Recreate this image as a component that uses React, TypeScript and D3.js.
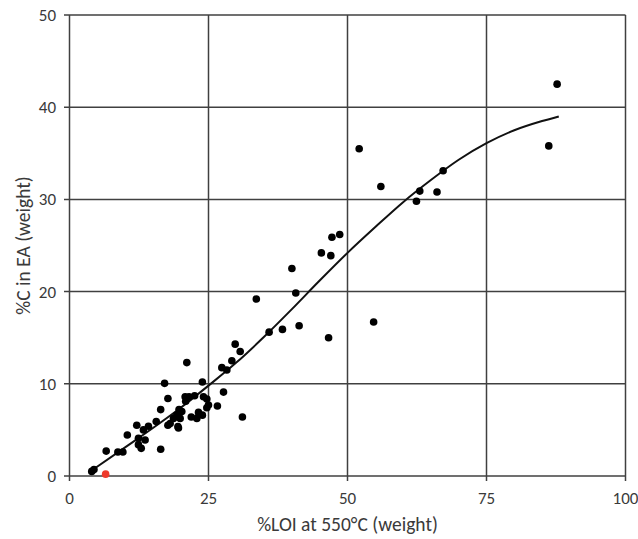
import React from "react";
import * as d3 from "d3";

const loiX: number[] = [
  87.7, 86.2, 52.1, 56.0, 67.2, 63.0, 66.1, 62.4, 47.2, 48.6,
  45.3, 47.0, 40.0, 40.7, 33.6, 54.7, 41.3, 38.3, 35.9, 46.6,
  29.8, 30.7, 21.1, 29.2, 27.4, 28.3, 23.9, 17.1, 27.7, 31.1,
  17.7, 20.8, 21.5, 22.5, 20.9, 24.1, 24.7, 25.0, 24.7, 26.6,
  19.7, 20.2, 19.3, 18.7, 19.9, 21.9, 22.9, 23.2, 23.9, 17.7,
  18.1, 19.5, 19.6, 16.4, 15.6, 14.2, 12.1, 13.3, 10.4, 12.4,
  13.6, 12.4, 12.9, 16.4, 6.6, 8.7, 9.6, 4.0, 4.4,
];
const carbonY: number[] = [
  42.5, 35.8, 35.5, 31.4, 33.1, 30.9, 30.8, 29.8, 25.9, 26.2,
  24.2, 23.9, 22.5, 19.85, 19.2, 16.7, 16.3, 15.9, 15.6, 15.0,
  14.3, 13.5, 12.3, 12.5, 11.75, 11.5, 10.2, 10.05, 9.1, 6.4,
  8.4, 8.6, 8.6, 8.7, 8.1, 8.6, 8.35, 7.7, 7.4, 7.6,
  7.2, 7.0, 6.6, 6.25, 6.25, 6.4, 6.25, 6.9, 6.6, 5.5,
  5.7, 5.35, 5.2, 7.2, 5.9, 5.4, 5.5, 5.0, 4.45, 4.1,
  3.9, 3.4, 3.0, 2.9, 2.7, 2.6, 2.6, 0.5, 0.7,
];
const redX: number[] = [6.5];
const redY: number[] = [0.2];

const trendX: number[] = [4, 10, 15, 20, 25, 30, 35, 40, 45, 50, 55, 60, 65, 70, 75, 80, 85, 88];
const trendY: number[] = [0.6, 3.1, 5.2, 7.4, 9.8, 12.3, 15.1, 18.1, 21.2, 24.2, 27.0, 29.7, 32.1, 34.3, 36.1, 37.5, 38.5, 39.0];

const xTicks: number[] = [0, 25, 50, 75, 100];
const yTicks: number[] = [0, 10, 20, 30, 40, 50];

const xTitle = "%LOI at 550°C (weight)";
const yTitle = "%C in EA (weight)";

export default function App() {
  const W = 638, H = 539;
  const x = d3.scaleLinear().domain([0, 100]).range([69.5, 625.5]);
  const y = d3.scaleLinear().domain([0, 50]).range([476, 15]);
  const grid = "#404040";
  const font = "Carlito, Lato, 'Open Sans', sans-serif";
  const line = d3
    .line<number>()
    .x((_, i) => x(trendX[i]))
    .y((d) => y(d))
    .curve(d3.curveMonotoneX);

  return (
    <div style={{ position: "fixed", left: 0, top: 0 }}>
      <svg width={W} height={H} style={{ display: "block", background: "#fff" }}>
        {yTicks.map((t) => (
          <line key={"h" + t} x1={64} x2={x(100)} y1={y(t)} y2={y(t)} stroke={grid} strokeWidth={1.5} />
        ))}
        {xTicks.map((t) => (
          <line key={"v" + t} x1={x(t)} x2={x(t)} y1={y(50)} y2={481} stroke={grid} strokeWidth={1.5} />
        ))}
        {yTicks.map((t) => (
          <text key={"yl" + t} x={56} y={y(t)} dy="0.35em" textAnchor="end" fontSize={17} fill="#3a3a3a" fontFamily={font}>
            {t}
          </text>
        ))}
        {xTicks.map((t) => (
          <text key={"xl" + t} x={x(t)} y={498} dy="0.35em" textAnchor="middle" fontSize={17} fill="#3a3a3a" fontFamily={font}>
            {t}
          </text>
        ))}
        <text x={(x(0) + x(100)) / 2} y={524} dy="0.35em" textAnchor="middle" fontSize={19.5} fill="#3a3a3a" fontFamily={font}>
          {xTitle}
        </text>
        <text
          transform={`translate(23, ${(y(0) + y(50)) / 2}) rotate(-90)`}
          dy="0.35em"
          textAnchor="middle"
          fontSize={19.5}
          fill="#3a3a3a"
          fontFamily={font}
        >
          {yTitle}
        </text>
        <path d={line(trendY) || ""} fill="none" stroke="#111" strokeWidth={2} />
        {loiX.map((v, i) => (
          <circle key={"p" + i} cx={x(v)} cy={y(carbonY[i])} r={3.8} fill="#000" />
        ))}
        {redX.map((v, i) => (
          <circle key={"r" + i} cx={x(v)} cy={y(redY[i])} r={3.8} fill="#ee3a2c" />
        ))}
      </svg>
    </div>
  );
}
